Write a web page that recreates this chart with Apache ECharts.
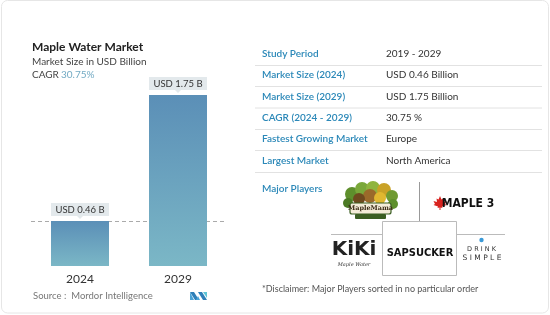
<!DOCTYPE html>
<html><head><meta charset="utf-8">
<script src="https://cdn.jsdelivr.net/npm/echarts@6/dist/echarts.min.js"></script>
<style>html,body{margin:0;padding:0;background:#fff}#c{width:550px;height:315px}</style>
</head><body><div id="c"></div>
<script>
var categories = ['2024', '2029'];
var marketSize = [0.46, 1.75];
var tableLabels = ['Study Period', 'Market Size (2024)', 'Market Size (2029)', 'CAGR (2024 - 2029)', 'Fastest Growing Market', 'Largest Market'];
var tableValues = ['2019 - 2029', 'USD 0.46 Billion', 'USD 1.75 Billion', '30.75 %', 'Europe', 'North America'];
var cagr = '30.75%';

var chart = echarts.init(document.getElementById('c'), null, {renderer: 'canvas'});
var F = 'Lato, "Open Sans", sans-serif';
var g = [];
// card border
g.push({type:'rect', shape:{x:1.5,y:0.5,width:547,height:312.5,r:6}, style:{fill:'none',stroke:'#e6e6e6',lineWidth:1}, z:0});
// title
g.push({type:'text', left:32, top:41, style:{text:'Maple Water Market', font:'bold 12px '+F, fill:'#222'}});
g.push({type:'text', left:32, top:57, style:{text:'Market Size in USD Billion', font:'10px '+F, fill:'#444'}});
g.push({type:'text', left:32, top:70, style:{text:'CAGR', font:'10px '+F, fill:'#444'}});
g.push({type:'text', left:61, top:70, style:{text:cagr, font:'10px '+F, fill:'#72aac3'}});
// source
g.push({type:'text', left:33, top:291, style:{text:'Source :  Mordor Intelligence', font:'9.5px '+F, fill:'#777'}});
// mordor logo
g.push({type:'polygon', shape:{points:[[190,292],[194,292],[199,300],[195,300]]}, style:{fill:'#2e7fb8'}});
g.push({type:'polygon', shape:{points:[[190,292],[190,300],[194,300]]}, style:{fill:'#4aa3d6'}});
g.push({type:'polygon', shape:{points:[[198,292],[202,292],[207,300],[203,300]]}, style:{fill:'#2e7fb8'}});
g.push({type:'polygon', shape:{points:[[203,292],[207,292],[207,298]]}, style:{fill:'#5cc4d6'}});
g.push({type:'polygon', shape:{points:[[196,300],[198,296],[200,300]]}, style:{fill:'#4aa3d6'}});

// table
var rowY = [55, 76, 97.5, 119, 140, 162];
for (var i = 0; i < tableLabels.length; i++) {
  g.push({type:'text', left:262, top:rowY[i]-6, style:{text:tableLabels[i], font:'600 10px '+F, fill:'#2b88b8'}});
  g.push({type:'text', left:386, top:rowY[i]-6, style:{text:tableValues[i], font:'10px '+F, fill:'#333'}});
  g.push({type:'line', shape:{x1:255,y1:rowY[i]+10.5,x2:542,y2:rowY[i]+10.5}, style:{stroke:'#e2e2e2',lineWidth:1}});
}
g.push({type:'text', left:262, top:184, style:{text:'Major Players', font:'600 10px '+F, fill:'#2b88b8'}});
g.push({type:'text', left:262, top:285, style:{text:'*Disclaimer: Major Players sorted in no particular order', font:'9px '+F, fill:'#555'}});
// logo grid lines
g.push({type:'line', shape:{x1:419.5,y1:182,x2:419.5,y2:221}, style:{stroke:'#999',lineWidth:1}});
g.push({type:'line', shape:{x1:331,y1:234.5,x2:382,y2:234.5}, style:{stroke:'#bbb',lineWidth:1}});
g.push({type:'line', shape:{x1:457,y1:234.5,x2:505,y2:234.5}, style:{stroke:'#bbb',lineWidth:1}});
g.push({type:'rect', shape:{x:382.5,y:221.5,width:74,height:54}, style:{fill:'#fff',stroke:'#bbb',lineWidth:1}});
// MapleMama logo
var leaves = [[352,194,7,'#5e8f2c'],[362,189,7,'#7aa83a'],[373,188,7,'#8fb43e'],[384,190,7,'#c9a227'],[392,196,6,'#6f9a32'],[348,203,5,'#4c7a25'],[393,204,5,'#5e8f2c'],[370,196,7,'#9a6a2a'],[380,198,6,'#e0b830'],[359,199,6,'#6e4a1e']];
leaves.forEach(function(l){ g.push({type:'circle', shape:{cx:l[0],cy:l[1],r:l[2]}, style:{fill:l[3]}}); });
g.push({type:'rect', shape:{x:350,y:203,width:41,height:11,r:2}, style:{fill:'#f4ecd8',stroke:'#3b5e22',lineWidth:1.2}});
g.push({type:'text', x:370.5, y:208.5, style:{text:'MapleMama', font:'bold 6.5px "DejaVu Serif", serif', fill:'#3a2a14', align:'center', verticalAlign:'middle'}});
g.push({type:'rect', shape:{x:355,y:214,width:31,height:5,r:1}, style:{fill:'#3b5e22'}});
// Maple 3
var lf=[[0,-7],[1.5,-3.5],[3.5,-4.5],[3,-1],[6.5,-2],[5,1],[6.5,2],[2,3.5],[2.5,5],[0.5,4.5],[0.5,7],[-0.5,7],[-0.5,4.5],[-2.5,5],[-2,3.5],[-6.5,2],[-5,1],[-6.5,-2],[-3,-1],[-3.5,-4.5],[-1.5,-3.5]];
g.push({type:'polygon', shape:{points:lf.map(function(p){return [440+p[0],203+p[1]];})}, style:{fill:'#d8231f'}});
g.push({type:'text', x:468, y:203.5, style:{text:'MAPLE 3', font:'bold 12px "DejaVu Sans Condensed", sans-serif', fill:'#111', align:'center', verticalAlign:'middle'}});
// KiKi
g.push({type:'text', x:354, y:250, style:{text:'KiKi', font:'bold 20px "DejaVu Sans", sans-serif', fill:'#222', align:'center', verticalAlign:'middle'}});
g.push({type:'text', x:354, y:265, style:{text:'Maple Water', font:'italic 5px "DejaVu Serif", serif', fill:'#333', align:'center', verticalAlign:'middle'}});
// Sapsucker
g.push({type:'text', x:420, y:253, style:{text:'SAPSUCKER', font:'bold 11px "DejaVu Sans Condensed", sans-serif', fill:'#111', align:'center', verticalAlign:'middle'}});
// Drink simple
g.push({type:'circle', shape:{cx:481.5,cy:240,r:2.2}, style:{fill:'#3a9ad8'}});
g.push({type:'text', x:481.5, y:249, style:{text:'D R I N K', font:'6.5px "DejaVu Sans", sans-serif', fill:'#333', align:'center', verticalAlign:'middle'}});
g.push({type:'text', x:482, y:258, style:{text:'S I M P L E', font:'7.5px "DejaVu Sans", sans-serif', fill:'#333', align:'center', verticalAlign:'middle'}});

chart.setOption({
  animation: false,
  grid: {left: 31, right: 323, top: 70.6, bottom: 49},
  xAxis: {type:'category', data: categories, axisLine:{show:false}, axisTick:{show:false},
          axisLabel:{fontSize:12, color:'#333', fontFamily:F, margin:7}},
  yAxis: {type:'value', min:0, max:2, show:false, splitLine:{show:false}},
  series: [{
    type:'bar', data: marketSize, barWidth: 58,
    itemStyle:{color: new echarts.graphic.LinearGradient(0,0,0,1,[{offset:0,color:'#5b8fb7'},{offset:1,color:'#7bb7c6'}])},
    label:{show:true, position:'top', distance:5, formatter:function(p){return 'USD '+p.value+' B';},
           backgroundColor:'#e3e9ec', padding:[2,6,1,6], fontSize:9.5, color:'#333', fontFamily:F, width:46, align:'center'},
    markLine:{silent:true, symbol:'none', label:{show:false}, z:1,
              lineStyle:{type:[4,3], color:'#aaa', width:1},
              data:[{yAxis: marketSize[0]}]}
  }],
  graphic: g
});
// label pointers
var extra = [];
marketSize.forEach(function(v, i){
  var p = chart.convertToPixel({gridIndex:0}, [i, v]);
  extra.push({type:'polygon', shape:{points:[[p[0]-3,p[1]-5],[p[0]+3,p[1]-5],[p[0],p[1]-2]]}, style:{fill:'#e3e9ec'}});
});
chart.setOption({graphic: g.concat(extra)});
</script></body></html>
